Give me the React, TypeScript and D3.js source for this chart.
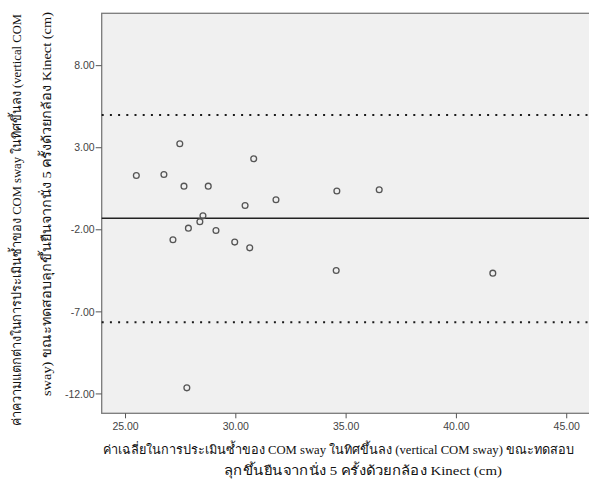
import React from "react";
import { scaleLinear } from "d3";

const width = 589;
const height = 485;

// Bland-Altman data: mean of two measurements (x) vs difference (y)
const meanValues = [
  25.49, 26.74, 27.46, 27.65, 28.75, 30.81, 30.42, 31.82, 34.58, 36.5,
  28.51, 28.37, 27.85, 29.1, 27.15, 29.95, 30.63, 34.55, 41.65, 27.78,
];
const diffValues = [
  1.31, 1.37, 3.24, 0.66, 0.66, 2.33, -0.52, -0.17, 0.36, 0.44,
  -1.15, -1.51, -1.9, -2.04, -2.61, -2.75, -3.1, -4.48, -4.64, -11.63,
];

const meanDiff = -1.3;
const upperLimit = 5.0;
const lowerLimit = -7.64;

const xTicks = [25, 30, 35, 40, 45];
const yTicks = [8, 3, -2, -7, -12];

const xTitle = [
  "ค่าเฉลี่ยในการประเมินซ้ำของ COM sway ในทิศขึ้นลง (vertical COM sway) ขณะทดสอบ",
  "ลุกขึ้นยืนจากนั่ง 5 ครั้งด้วยกล้อง Kinect (cm)",
];
const yTitle = [
  "ค่าความแตกต่างในการประเมินซ้ำของ COM sway ในทิศขึ้นลง (vertical COM",
  "sway)  ขณะทดสอบลุกขึ้นยืนจากนั่ง 5 ครั้งด้วยกล้อง Kinect (cm)",
];

const plot = { left: 101.7, top: 13.3, right: 589, bottom: 413.3 };

const tickFont = "'Liberation Sans', Arial, sans-serif";
const titleFont = "'Liberation Serif', 'Times New Roman', serif";
const titleSize = 12.7;

const BlandAltman = () => {
  const xScale = scaleLinear().domain([23.92, 46.01]).range([plot.left, plot.right]);
  const yScale = scaleLinear().domain([11.19, -13.18]).range([plot.top, plot.bottom]);

  const points = meanValues.map((m, i) => ({ x: m, y: diffValues[i] }));

  return (
    <svg width={width} height={height} style={{ display: "block" }}>
      <rect width={width} height={height} fill="#ffffff" />
      {/* plot area */}
      <rect
        x={plot.left}
        y={plot.top}
        width={plot.right - plot.left + 2}
        height={plot.bottom - plot.top}
        fill="#f0f0f0"
        stroke="#7a7a7a"
        strokeWidth={1.3}
      />

      {/* limits of agreement */}
      {[upperLimit, lowerLimit].map((v) => (
        <line
          key={v}
          x1={plot.left}
          x2={plot.right}
          y1={yScale(v)}
          y2={yScale(v)}
          stroke="#1a1a1a"
          strokeWidth={2}
          strokeDasharray="2 6.2"
        />
      ))}
      <line
        x1={plot.left}
        x2={plot.right}
        y1={yScale(meanDiff)}
        y2={yScale(meanDiff)}
        stroke="#222"
        strokeWidth={1.6}
      />

      {points.map((d, i) => (
        <circle
          key={i}
          cx={xScale(d.x)}
          cy={yScale(d.y)}
          r={2.9}
          fill="none"
          stroke="#555"
          strokeWidth={1.3}
        />
      ))}

      {/* y axis */}
      {yTicks.map((t) => (
        <g key={t} transform={`translate(0,${yScale(t)})`}>
          <line x1={plot.left - 6} x2={plot.left} stroke="#555" strokeWidth={1} />
          <text
            x={plot.left - 7}
            dy="0.35em"
            textAnchor="end"
            fontFamily={tickFont}
            fontSize={10.5}
            fill="#444"
          >
            {t.toFixed(2)}
          </text>
        </g>
      ))}

      {/* x axis */}
      {xTicks.map((t) => (
        <g key={t} transform={`translate(${xScale(t)},0)`}>
          <line y1={plot.bottom} y2={plot.bottom + 5} stroke="#555" strokeWidth={1} />
          <text
            y={426}
            dy="0.35em"
            textAnchor="middle"
            fontFamily={tickFont}
            fontSize={10.5}
            fill="#444"
          >
            {t.toFixed(2)}
          </text>
        </g>
      ))}

      {/* axis titles */}
      <text
        x={338.5}
        y={450}
        dy="0.35em"
        textAnchor="middle"
        fontFamily={titleFont}
        fontSize={titleSize}
        fill="#111"
        textLength={471}
        lengthAdjust="spacingAndGlyphs"
      >
        {xTitle[0]}
      </text>
      <text
        x={363}
        y={471}
        dy="0.35em"
        textAnchor="middle"
        fontFamily={titleFont}
        fontSize={titleSize}
        fill="#111"
        textLength={278}
        lengthAdjust="spacingAndGlyphs"
      >
        {xTitle[1]}
      </text>
      <text
        transform="translate(17,220) rotate(-90)"
        dy="0.35em"
        textAnchor="middle"
        fontFamily={titleFont}
        fontSize={titleSize}
        fill="#111"
        textLength={412}
        lengthAdjust="spacingAndGlyphs"
      >
        {yTitle[0]}
      </text>
      <text
        transform="translate(47,204) rotate(-90)"
        dy="0.35em"
        textAnchor="middle"
        fontFamily={titleFont}
        fontSize={titleSize}
        fill="#111"
        textLength={384}
        lengthAdjust="spacingAndGlyphs"
      >
        {yTitle[1]}
      </text>
    </svg>
  );
};

export default function App() {
  return (
    <div style={{ position: "absolute", left: 0, top: 0 }}>
      <BlandAltman />
    </div>
  );
}
